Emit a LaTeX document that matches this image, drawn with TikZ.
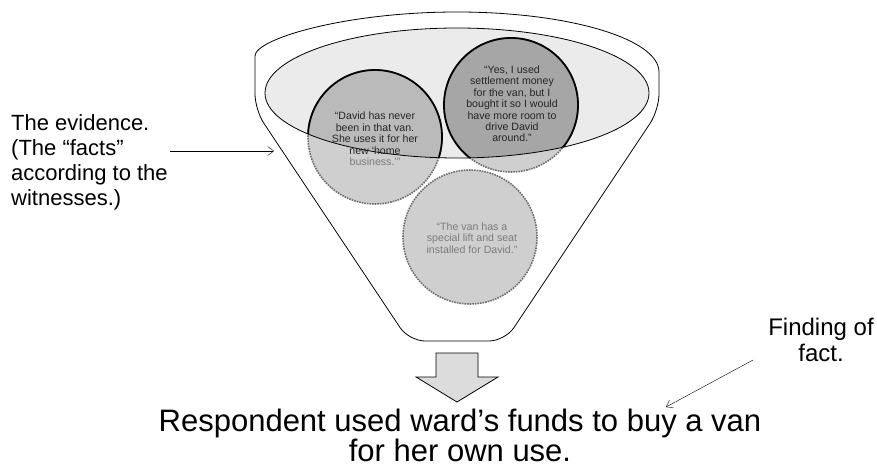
\documentclass[tikz,border=0pt]{standalone}
\usepackage{fontspec}
\setmainfont{Liberation Sans}
\usetikzlibrary{arrows.meta, positioning}
\definecolor{fnlight}{HTML}{EBEBEB}
\definecolor{fnpale}{HTML}{CFCFCF}
\definecolor{fnmid}{HTML}{BABABA}
\definecolor{fndark}{HTML}{A6A6A6}
\definecolor{fnrim}{HTML}{6E6E6E}
\definecolor{fnfaded}{HTML}{7C7C7C}
\definecolor{fnarrow}{HTML}{DCDCDC}

\begin{document}
\begin{tikzpicture}[x=1pt, y=-1pt, >={Straight Barb[length=6pt,width=9pt]},
  label/.style={font=\fontsize{22}{25}\selectfont, inner sep=0pt},
  claim/.style={font=\fontsize{10.6}{11.4}\selectfont, align=center, inner sep=0pt, text=black!85},
  bubble/.style={fill=fnpale, draw=fnrim, densely dotted, line width=1.6pt},
  rim/.style={draw=black, line width=1.8pt}]

  \useasboundingbox (0,0) rectangle (877,468);

  % --- funnel body ---
  \draw[line width=0.8pt] (255,72)
    arc[start angle=180, end angle=360, x radius=202, y radius=60]
    [rounded corners=16] -- (659,110) -- (505,341) -- (409,341) -- (255,110) -- cycle;

  % --- evidence bowl and the three statements ---
  \fill[fnlight] (457,93) ellipse[x radius=192, y radius=65];
  \path[bubble] (375,137) circle[radius=67];
  \path[bubble] (511,105) circle[radius=67];
  \path[bubble] (470,237) circle[radius=67];
  \begin{scope}
    \clip (457,93) ellipse[x radius=192, y radius=65];
    \path[rim, fill=fnmid] (375,137) circle[radius=67];
    \path[rim, fill=fndark] (511,105) circle[radius=67];
  \end{scope}
  \draw[line width=0.8pt] (457,93) ellipse[x radius=192, y radius=65];

  \node[claim] (never) at (375,139)
    {“David has never\\been in that van.\\She uses it for her\\new ‘home\\\textcolor{fnfaded}{business.’”}};
  \node[claim] (settle) at (512,104)
    {“Yes, I used\\settlement money\\for the van, but I\\bought it so I would\\have more room to\\drive David\\around.”};
  \node[claim, text=fnfaded] (lift) at (472,238)
    {“The van has a\\special lift and seat\\installed for David.”};

  % --- down arrow ---
  \draw[fill=fnarrow, line width=0.8pt] (436,353) -- (478,353) -- (478,377) -- (498,377)
    -- (457,402) -- (416,377) -- (436,377) -- cycle;

  % --- side notes ---
  \node[label, align=left, anchor=north west] (evid) at (11,114)
    {The evidence.\\(The “facts”\\according to the\\witnesses.)};
  \coordinate (evtail) at (170,151);
  \coordinate (evtip) at (274,151);
  \draw[->] (evtail) -- (evtip);

  \node[label, font=\fontsize{24}{26}\selectfont, align=center] (finding) at (821,340)
    {Finding of\\fact.};
  \coordinate (fftail) at (753,360);
  \coordinate (fftip) at (666,407);
  \draw[->] (fftail) -- (fftip);

  % --- conclusion ---
  \node[label, font=\fontsize{31}{30}\selectfont, align=center] (verdict) at (460,435)
    {Respondent used ward’s funds to buy a van\\for her own use.};

\end{tikzpicture}
\end{document}
